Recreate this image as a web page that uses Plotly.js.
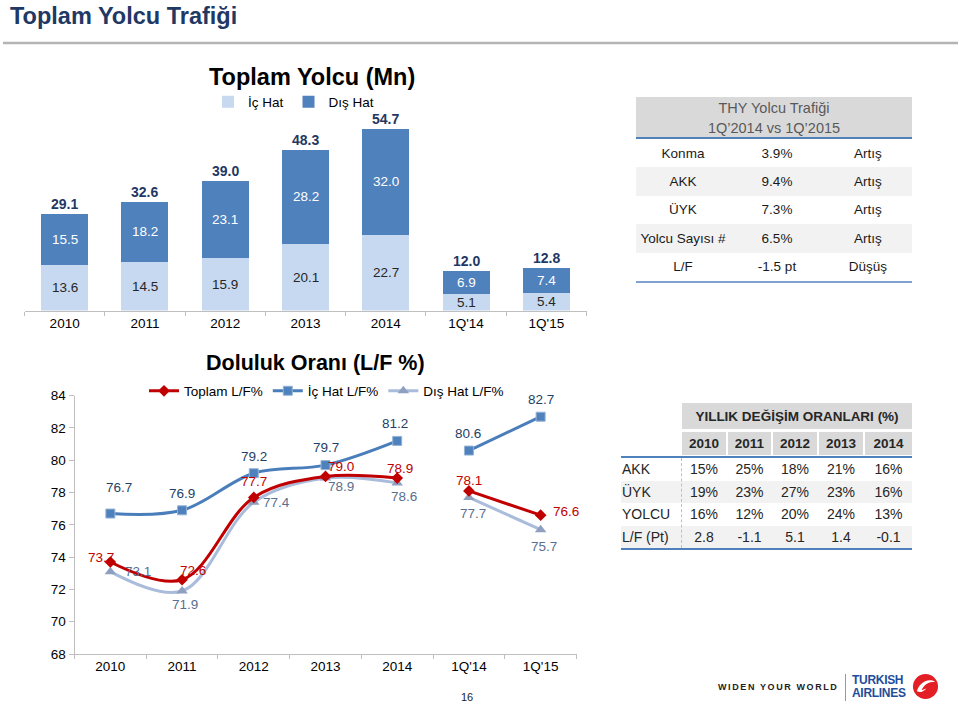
<!DOCTYPE html>
<html><head><meta charset="utf-8">
<script src="https://cdn.plot.ly/plotly-3.0.1.min.js"></script>
<style>
html,body{margin:0;padding:0;background:#fff;}
#wrap{position:relative;width:959px;height:706px;overflow:hidden;font-family:Arial,"Liberation Sans",sans-serif;}
#plot{position:absolute;left:0;top:0;width:959px;height:706px;}
.abs{position:absolute;box-sizing:border-box;}
.c{display:flex;align-items:center;justify-content:center;white-space:nowrap;}
</style></head><body>
<div id="wrap"><div id="plot"></div></div>
<script>
// ---- chart data ----
const periods = ['2010','2011','2012','2013','2014',"1Q'14","1Q'15"];
const icHat   = [13.6,14.5,15.9,20.1,22.7,5.1,5.4];
const disHat  = [15.5,18.2,23.1,28.2,32.0,6.9,7.4];
const totals  = [29.1,32.6,39.0,48.3,54.7,12.0,12.8];
const lfTotal = [73.7,72.6,77.7,79.0,78.9,78.1,76.6];
const lfIc    = [76.7,76.9,79.2,79.7,81.2,80.6,82.7];
const lfDis   = [73.1,71.9,77.4,78.9,78.6,77.7,75.7];
// ---- table data ----
const thyTitle = ['THY Yolcu Trafiği','1Q’2014 vs 1Q’2015'];
const thyMetrics = ['Konma','AKK','ÜYK','Yolcu Sayısı #','L/F'];
const thyChange = ['3.9%','9.4%','7.3%','6.5%','-1.5 pt'];
const thyDirection = ['Artış','Artış','Artış','Artış','Düşüş'];
const annualTitle = 'YILLIK DEĞİŞİM ORANLARI (%)';
const annualYears = ['2010','2011','2012','2013','2014'];
const annualRows = ['AKK','ÜYK','YOLCU','L/F (Pt)'];
const akk   = ['15%','25%','18%','21%','16%'];
const uyk   = ['19%','23%','27%','23%','16%'];
const yolcu = ['16%','12%','20%','24%','13%'];
const lfPt  = ['2.8','-1.1','5.1','1.4','-0.1'];

// ---- label offsets (px) ----
const totalOff = [[-9,4],[11,9],[0,16],[15,10],[3,10],[0,10],[25,4]];
const icOff    = [[9,26],[0,17],[0,17],[0,18],[-2,17],[-1,17],[0,17]];
const disOff   = [[28,0],[3,-13],[23,0],[15,-8],[7,-14],[4,-16],[3,-17]];

const W=959,H=706;
const px=x=>x/W, py=y=>1-y/H;
const FONT='Arial, "Liberation Sans", sans-serif';

const seg1=[0,5], seg2=[5,7];
function lineTraces(vals,name,color,mk,rank){
  return [seg1,seg2].map((s,k)=>({
    type:'scatter',mode:'lines+markers',xaxis:'x2',yaxis:'y2',
    x:periods.slice(s[0],s[1]),y:vals.slice(s[0],s[1]),
    name:name,legend:'legend2',legendgroup:name,legendrank:rank,showlegend:k===0,
    line:{color:color,width:3,shape:'spline',smoothing:1},
    marker:mk,hoverinfo:'skip'
  }));
}
const traces=[
  {type:'bar',x:periods,y:icHat,name:'İç Hat',marker:{color:'#C6D9F1'},legend:'legend',hoverinfo:'skip'},
  {type:'bar',x:periods,y:disHat,name:'Dış Hat',marker:{color:'#4F81BD'},legend:'legend',hoverinfo:'skip'},
  ...lineTraces(lfDis,'Dış Hat L/F%','#A9BCDB',{symbol:'triangle-up',size:10,color:'#8E9FBF'},3),
  ...lineTraces(lfIc,'İç Hat L/F%','#4A7EBB',{symbol:'square',size:9,color:'#4F81BD',line:{color:'#95B3D7',width:1}},2),
  ...lineTraces(lfTotal,'Toplam L/F%','#C00000',{symbol:'diamond',size:9,color:'#C00000'},1)
];

// annotation x uses the category index on category axes
const ann=[];
periods.forEach((p,i)=>{
  ann.push({x:i,y:icHat[i]/2,xref:'x',yref:'y',text:icHat[i].toFixed(1),showarrow:false,font:{size:13.5,color:'#262626'}});
  ann.push({x:i,y:icHat[i]+disHat[i]/2,xref:'x',yref:'y',text:disHat[i].toFixed(1),showarrow:false,font:{size:13.5,color:'#ffffff'}});
  ann.push({x:i,y:totals[i],xref:'x',yref:'y',yshift:10,text:totals[i].toFixed(1),showarrow:false,font:{size:14,color:'#1F3864',weight:'bold'}});
  ann.push({x:i,y:lfIc[i],xref:'x2',yref:'y2',xshift:icOff[i][0],yshift:icOff[i][1],text:lfIc[i].toFixed(1),showarrow:false,font:{size:13.5,color:'#243F66'}});
  ann.push({x:i,y:lfDis[i],xref:'x2',yref:'y2',xshift:disOff[i][0],yshift:disOff[i][1],text:lfDis[i].toFixed(1),showarrow:false,font:{size:13.5,color:'#5A6E8F'}});
  ann.push({x:i,y:lfTotal[i],xref:'x2',yref:'y2',xshift:totalOff[i][0],yshift:totalOff[i][1],text:lfTotal[i].toFixed(1),showarrow:false,font:{size:13.5,color:'#C00000'}});
});
ann.push({xref:'paper',yref:'paper',x:px(8),y:py(16),xanchor:'left',yanchor:'middle',text:'Toplam Yolcu Trafiği',showarrow:false,font:{size:23.5,color:'#1F3864',weight:'bold'}});
ann.push({xref:'paper',yref:'paper',x:px(312),y:py(77),xanchor:'center',yanchor:'middle',text:'Toplam Yolcu (Mn)',showarrow:false,font:{size:23.5,color:'#000',weight:'bold'}});
ann.push({xref:'paper',yref:'paper',x:px(315),y:py(363),xanchor:'center',yanchor:'middle',text:'Doluluk Oranı (L/F %)',showarrow:false,font:{size:21.5,color:'#000',weight:'bold'}});
ann.push({xref:'paper',yref:'paper',x:px(467),y:py(697),xanchor:'center',yanchor:'middle',text:'16',showarrow:false,font:{size:11,color:'#222'}});

const axStyle={showline:true,linecolor:'#BFBFBF',linewidth:1,ticks:'outside',tickcolor:'#BFBFBF',ticklen:4,showgrid:false,zeroline:false,fixedrange:true,tickfont:{size:13.5,color:'#000'}};
const layout={
  width:W,height:H,margin:{l:0,r:0,t:0,b:0},paper_bgcolor:'rgba(0,0,0,0)',plot_bgcolor:'rgba(0,0,0,0)',
  font:{family:FONT},barmode:'stack',bargap:0.415,showlegend:true,
  xaxis:Object.assign({},axStyle,{domain:[px(24.5),px(586.5)],anchor:'y',type:'category',tickson:'boundaries',categoryorder:'array',categoryarray:periods,range:[-0.5,6.5],autorange:false}),
  yaxis:{domain:[py(310.5),py(110.9)],range:[0,60],autorange:false,visible:false,fixedrange:true,anchor:'x'},
  xaxis2:Object.assign({},axStyle,{domain:[px(74.5),px(576.5)],anchor:'y2',type:'category',tickson:'boundaries',categoryorder:'array',categoryarray:periods,range:[-0.5,6.5],autorange:false}),
  yaxis2:Object.assign({},axStyle,{domain:[py(654),py(395.7)],anchor:'x2',range:[68,84],autorange:false,dtick:2,tick0:68,ticklen:5}),
  legend:{orientation:'h',x:px(208),xanchor:'left',y:py(102),yanchor:'middle',font:{size:13.5,color:'#000'},bgcolor:'rgba(0,0,0,0)',traceorder:'normal'},
  legend2:{orientation:'h',x:px(144),xanchor:'left',y:py(391),yanchor:'middle',font:{size:13.5,color:'#000'},bgcolor:'rgba(0,0,0,0)',traceorder:'normal'},
  shapes:[{type:'line',xref:'paper',yref:'paper',x0:px(3),x1:px(958),y0:py(43),y1:py(43),line:{color:'#B4B4B4',width:2.5}}],
  annotations:ann
};
Plotly.newPlot('plot',traces,layout,{staticPlot:true,displayModeBar:false});

// ---- HTML tables ----
const wrap=document.getElementById('wrap');
function box(l,t,w,h,css,txt){const d=document.createElement('div');d.className='abs c';
  d.style.cssText+=`left:${l}px;top:${t}px;width:${w}px;height:${h}px;`+(css||'');if(txt!==undefined)d.textContent=txt;wrap.appendChild(d);return d;}

// THY table
const tL=636,tW=276;
box(tL,97,tW,41,'background:#D9D9D9;flex-direction:column;color:#595959;font-size:14.5px;line-height:20px;').innerHTML=thyTitle.map(s=>`<div>${s}</div>`).join('');
box(tL,137,tW,2,'background:#4F81BD;');
const colX=[[0,94],[94,188],[188,276]];
thyMetrics.forEach((m,i)=>{
  const top=139+i*28.4;
  box(tL,top,tW,28.4,'background:'+(i%2?'#F2F2F2':'#fff')+';');
  [m,thyChange[i],thyDirection[i]].forEach((t,j)=>box(tL+colX[j][0],top,colX[j][1]-colX[j][0],28.4,'font-size:13.5px;color:#1a1a1a;',t));
});
box(tL,281,tW,1.5,'background:#7FA3D1;');

// annual table
box(682,403,230,26,'background:#D9D9D9;font-weight:bold;font-size:13.5px;color:#262626;',annualTitle);
const yc=[[682,726],[728,771],[773,817],[819,863],[865,912]];
annualYears.forEach((y,j)=>box(yc[j][0],432,yc[j][1]-yc[j][0],23,'background:#D9D9D9;font-weight:bold;font-size:13.5px;color:#262626;',y));
box(621,456,291,2,'background:#4F81BD;');
const annualData=[akk,uyk,yolcu,lfPt];
annualRows.forEach((r,i)=>{
  const top=458+i*22.6;
  box(621,top,291,22.6,'background:'+(i%2?'#F2F2F2':'#fff')+';');
  box(622,top,60,22.6,'justify-content:flex-start;font-size:14px;color:#262626;',r);
  annualData[i].forEach((v,j)=>box(yc[j][0],top,yc[j][1]-yc[j][0],22.6,'font-size:14px;color:#262626;',v));
});
box(681,458,1,90,'border-left:1px dashed #BFBFBF;');
box(621,548,291,2,'background:#4F81BD;');

// logo
box(718,680,118,14,'font-size:9px;font-weight:bold;letter-spacing:1.6px;color:#222;justify-content:flex-start;','WIDEN YOUR WORLD');
box(845,674,1,27,'background:#999;');
box(852,674,58,13,'justify-content:flex-start;font-size:12px;font-weight:bold;line-height:13px;color:#1E4D9B;letter-spacing:-0.3px;','TURKISH');
box(852,687,58,13,'justify-content:flex-start;font-size:12px;font-weight:bold;line-height:13px;color:#1E4D9B;letter-spacing:-0.3px;','AIRLINES');
const lg=box(912,673,27,27,'');
lg.innerHTML='<svg width="27" height="27" viewBox="0 0 28 28"><circle cx="14" cy="14" r="13" fill="#E31E24"/><path d="M5 19 C 8 9, 17 5, 24 9 C 17 9, 12 12, 10 18 L 15 16 C 12 19, 9 21, 5 19 Z" fill="#fff"/></svg>';
</script>
</body></html>
